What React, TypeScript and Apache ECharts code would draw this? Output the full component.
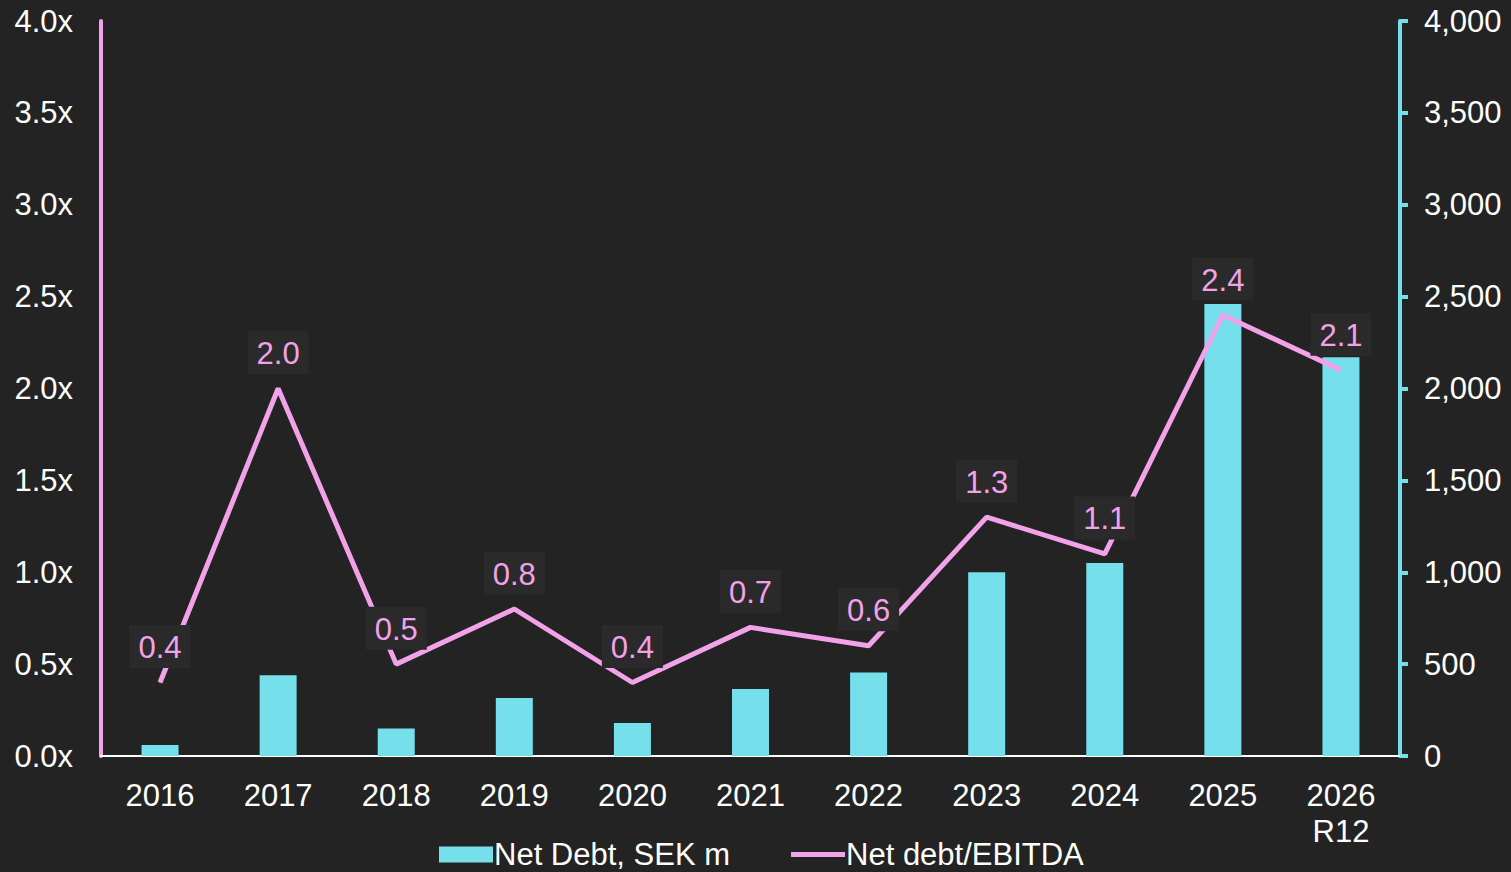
import React, { useEffect, useRef } from "react";
import * as echarts from "echarts";

const categories = ["2016", "2017", "2018", "2019", "2020", "2021", "2022", "2023", "2024", "2025", "2026\nR12"];
const netDebt = [60, 440, 150, 315, 180, 365, 455, 1000, 1050, 2460, 2170];
const ratio = [0.4, 2.0, 0.5, 0.8, 0.4, 0.7, 0.6, 1.3, 1.1, 2.4, 2.1];

const CYAN = "#76dfec";
const PINK = "#f2a2e8";
const FONT = "'Liberation Sans', Arial, sans-serif";
const FS = 31;

export default function App() {
  const ref = useRef<HTMLDivElement>(null);
  useEffect(() => {
    if (!ref.current) return;
    const chart = echarts.init(ref.current, undefined, { renderer: "svg" });
    chart.setOption({
      animation: false,
      backgroundColor: "#232323",
      textStyle: { fontFamily: FONT },
      grid: { left: 101, right: 111, top: 21, bottom: 116 },
      legend: {
        bottom: -3,
        left: 434,
        itemWidth: 54,
        itemHeight: 16,
        itemGap: 61,
        textStyle: { color: "#ffffff", fontSize: FS, fontFamily: FONT, padding: [0, 0, 0, -4] },
        data: [
          { name: "Net Debt, SEK m", icon: "rect", itemStyle: { color: CYAN } },
          {
            name: "Net debt/EBITDA",
            icon: "path://M0,0 M0,5.5 H54 V10.5 H0 Z M54,16",
            itemStyle: { color: PINK, opacity: 1 },
          },
        ],
      },
      xAxis: {
        type: "category",
        data: categories,
        axisLine: { lineStyle: { color: "#ffffff", width: 2 } },
        axisTick: { show: false },
        axisLabel: { color: "#ffffff", fontSize: FS, margin: 21, lineHeight: 36, fontFamily: FONT },
      },
      yAxis: [
        {
          type: "value",
          min: 0,
          max: 4,
          interval: 0.5,
          position: "left",
          axisLine: { show: true, lineStyle: { color: PINK, width: 4 } },
          axisTick: { show: false },
          splitLine: { show: false },
          axisLabel: {
            color: "#ffffff",
            fontSize: FS,
            margin: 28,
            fontFamily: FONT,
            formatter: (v: number) => v.toFixed(1) + "x",
          },
        },
        {
          type: "value",
          min: 0,
          max: 4000,
          interval: 500,
          position: "right",
          axisLine: { show: true, lineStyle: { color: CYAN, width: 4 } },
          axisTick: { show: true, length: 8, lineStyle: { color: CYAN, width: 4 } },
          splitLine: { show: false },
          axisLabel: {
            color: "#ffffff",
            fontSize: FS,
            margin: 24,
            fontFamily: FONT,
            formatter: (v: number) => v.toLocaleString("en-US"),
          },
        },
      ],
      series: [
        {
          name: "Net Debt, SEK m",
          type: "bar",
          yAxisIndex: 1,
          data: netDebt,
          barWidth: 37,
          itemStyle: { color: CYAN },
        },
        {
          name: "Net debt/EBITDA",
          type: "line",
          yAxisIndex: 0,
          data: ratio,
          symbol: "circle",
          symbolSize: 1,
          showSymbol: true,
          lineStyle: { color: PINK, width: 5 },
          itemStyle: { color: PINK },
          label: {
            show: true,
            position: "top",
            distance: 14,
            color: PINK,
            fontSize: FS,
            fontFamily: FONT,
            backgroundColor: "#2a2a2a",
            padding: [7, 9, 5, 9],
            formatter: (p: any) => Number(p.value).toFixed(1),
          },
          z: 3,
        },
      ],
    });
    return () => chart.dispose();
  }, []);
  return <div ref={ref} style={{ position: "fixed", left: 0, top: 0, width: 1511, height: 872 }} />;
}
